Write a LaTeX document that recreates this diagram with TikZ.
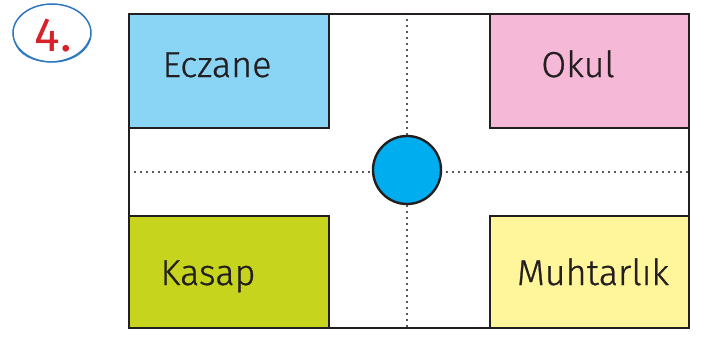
\documentclass[tikz,border=0pt]{standalone}
\usepackage{fontspec}
\setmainfont{Fira Sans Light}[FakeBold=0.8]
\newfontfamily\numfont{Fira Sans}
\definecolor{ink}{HTML}{231F20}
\definecolor{eczc}{HTML}{8AD4F5}
\definecolor{okulc}{HTML}{F5B8D6}
\definecolor{kasc}{HTML}{C6D41E}
\definecolor{muhc}{HTML}{FFF59A}
\definecolor{circc}{HTML}{00AEEF}
\definecolor{ringc}{HTML}{2F78C0}
\definecolor{numc}{HTML}{D7222B}
\begin{document}
\begin{tikzpicture}[x=1pt,y=-1pt,
  block/.style={draw=ink,line width=2.4pt},
  lbl/.style={font=\fontsize{36}{38}\selectfont,text=ink,anchor=base,inner sep=0pt},
  dotline/.style={draw=ink,line width=2.4pt,line cap=round,dash pattern=on 0pt off 6pt}]
\useasboundingbox (0,0) rectangle (713,340);
% outer frame
\draw[block,fill=white] (129,14) rectangle (689,328);
% dotted streets
\coordinate (vt) at (407,14);
\coordinate (vb) at (407,328);
\coordinate (hl) at (129,172);
\coordinate (hr) at (689,172);
\draw[dotline] (vt) -- (vb);
\draw[dotline] (hl) -- (hr);
% blocks
\draw[block,fill=eczc] (129,14) rectangle (329,128);
\draw[block,fill=okulc] (490,14) rectangle (689,128);
\draw[block,fill=kasc] (129,216) rectangle (329,328);
\draw[block,fill=muhc] (490,216) rectangle (689,328);
% labels
\node[lbl] (ecz) at (217,77) {Eczane};
\node[lbl] (okul) at (578,77) {Okul};
\node[lbl] (kas) at (208,285) {Kasap};
\node[lbl] (muh) at (593,285) {Muhtarlık};
% center circle
\node[circle,draw=ink,line width=2.4pt,fill=circc,minimum size=68pt,inner sep=0pt] (c) at (407,170) {};
% number
\draw[ringc,line width=1.5pt] (52,33) ellipse (39pt and 29pt);
\draw[ringc,line width=1pt] (15,42) .. controls (22,68) and (78,70) .. (90,38);
\node[font=\numfont\fontsize{48}{50}\selectfont,text=numc,inner sep=0pt,anchor=base] (num) at (53,51) {4.};
\end{tikzpicture}
\end{document}
